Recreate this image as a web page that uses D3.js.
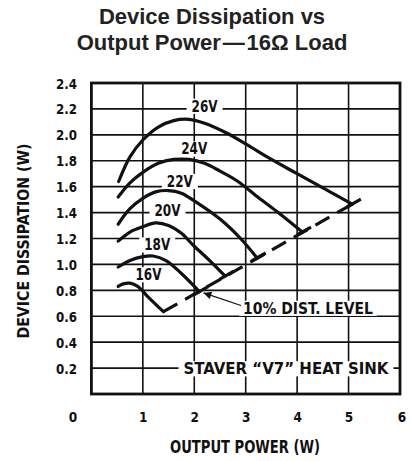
<!DOCTYPE html>
<html lang="en">
<head>
  <meta charset="UTF-8">
  <title>Device Dissipation vs Output Power</title>
  <script src="https://d3js.org/d3.v7.min.js"></script>
  <style>
    body { margin: 0; background: #fff; }
    svg { display: block; }
    .title { font-family: "Liberation Sans", Arial, sans-serif; font-weight: bold; font-size: 22px; fill: #222; }
    .cond { font-family: "Liberation Sans Narrow", "DejaVu Sans Condensed", sans-serif; font-weight: bold; fill: #111; }
  </style>
</head>
<body>
  <svg width="412" height="461"></svg>
  <script>
    const svg = d3.select("svg");

    // data
    const xTicks = [1, 2, 3, 4, 5, 6];
    const yTicks = [0.2, 0.4, 0.6, 0.8, 1.0, 1.2, 1.4, 1.6, 1.8, 2.0, 2.2, 2.4];
    const voltages = ["26V", "24V", "22V", "20V", "18V", "16V"];
    const curve26 = [[0.53,1.64],[0.75,1.83],[1.0,1.96],[1.3,2.06],[1.6,2.11],[1.9,2.12],[2.2,2.09],[2.6,2.02],[3.0,1.93],[3.5,1.81],[4.0,1.70],[4.5,1.59],[5.07,1.465]];
    const curve24 = [[0.52,1.52],[0.75,1.63],[1.0,1.71],[1.3,1.78],[1.6,1.81],[1.9,1.81],[2.2,1.78],[2.5,1.72],[2.85,1.64],[3.2,1.53],[3.6,1.41],[4.1,1.25]];
    const curve22 = [[0.52,1.31],[0.75,1.43],[1.0,1.51],[1.25,1.56],[1.5,1.57],[1.75,1.55],[2.0,1.49],[2.5,1.35],[2.9,1.20],[3.22,1.05]];
    const curve20 = [[0.52,1.18],[0.75,1.25],[1.0,1.29],[1.25,1.32],[1.5,1.30],[1.75,1.24],[2.0,1.14],[2.3,1.03],[2.60,0.91]];
    const curve18 = [[0.52,0.98],[0.75,1.03],[1.0,1.06],[1.2,1.065],[1.45,1.03],[1.75,0.93],[2.10,0.79]];
    const curve16 = [[0.52,0.83],[0.62,0.85],[0.75,0.855],[0.9,0.83],[1.1,0.75],[1.40,0.635]];
    const distLevel = [[1.40,0.635],[5.07,1.465]];
    // label anchor points (data units) for each voltage
    const labelPos = [[2.2,2.18],[2.0,1.85],[1.72,1.60],[1.48,1.37],[1.28,1.11],[1.11,0.88]];

    const x = d3.scaleLinear().domain([0, 6]).range([91.4, 400]);
    const y = d3.scaleLinear().domain([0, 2.4]).range([394, 83]);

    const curves = [curve26, curve24, curve22, curve20, curve18, curve16];

    // title
    svg.append("text").attr("class", "title").attr("x", 212).attr("y", 23.5)
      .attr("text-anchor", "middle").text("Device Dissipation vs");
    svg.append("text").attr("class", "title").attr("x", 212).attr("y", 50)
      .attr("text-anchor", "middle").text("Output Power\u200A\u2014\u200A16\u03A9 Load");

    // grid
    const grid = svg.append("g").attr("stroke", "#111").attr("stroke-width", 1.6);
    grid.selectAll(".vg").data(xTicks.slice(0, -1)).join("line")
      .attr("x1", d => x(d)).attr("x2", d => x(d))
      .attr("y1", y(2.4)).attr("y2", y(0));
    grid.selectAll(".hg").data(yTicks.slice(0, -1)).join("line")
      .attr("y1", d => y(d)).attr("y2", d => y(d))
      .attr("x1", x(0)).attr("x2", x(6));

    // axes as tick labels only
    const yAxis = d3.axisLeft(y).tickValues(yTicks).tickSize(0).tickPadding(0)
      .tickFormat(d3.format(".1f"));
    const gy = svg.append("g").attr("transform", "translate(77,0)").call(yAxis);
    gy.select(".domain").remove();
    gy.selectAll(".tick text").attr("class", "cond").attr("font-size", 13.5)
      .attr("dy", 5).attr("textLength", 21).attr("lengthAdjust", "spacingAndGlyphs")
      .attr("font-family", null);

    const xAxis = d3.axisBottom(x).tickValues(xTicks).tickSize(0).tickPadding(0)
      .tickFormat(d3.format("d"));
    const gx = svg.append("g").attr("transform", "translate(0,412)").call(xAxis);
    gx.select(".domain").remove();
    gx.selectAll(".tick text").attr("class", "cond").attr("font-size", 13.5)
      .attr("dy", 10).attr("font-family", null);
    gx.selectAll(".tick").filter(d => d === 6).attr("transform", `translate(${x(6) + 2},0)`);

    svg.append("text").attr("class", "cond").attr("font-size", 13.5)
      .attr("x", 73).attr("y", 422).attr("text-anchor", "middle").text("0");

    // label backgrounds (break the grid), then curves, then texts
    const bg = svg.append("g").attr("fill", "#fff");
    const curveG = svg.append("g").attr("fill", "none").attr("stroke", "#111")
      .attr("stroke-width", 3.2).attr("stroke-linecap", "round");

    const line = d3.line().x(d => x(d[0])).y(d => y(d[1])).curve(d3.curveCatmullRom.alpha(0.5));
    curveG.selectAll(".c").data(curves).join("path").attr("d", line);

    // 10% distortion level (dashed)
    const straight = d3.line().x(d => x(d[0])).y(d => y(d[1]));
    curveG.append("path").attr("d", straight(distLevel))
      .attr("stroke-dasharray", "16,9").attr("stroke-linecap", "butt");

    // end bars where each curve meets the dashed line
    const dx = x(distLevel[1][0]) - x(distLevel[0][0]);
    const dy = y(distLevel[1][1]) - y(distLevel[0][1]);
    const len = Math.hypot(dx, dy);
    const ux = dx / len, uy = dy / len;
    curveG.selectAll(".bar").data(curves.slice(0, 5).map(c => c[c.length - 1])).join("line")
      .attr("x1", d => x(d[0]) - ux * 6).attr("y1", d => y(d[1]) - uy * 6)
      .attr("x2", d => x(d[0]) + ux * 10).attr("y2", d => y(d[1]) + uy * 10)
      .attr("stroke-linecap", "butt");

    // frame
    svg.append("rect").attr("x", x(0)).attr("y", y(2.4))
      .attr("width", x(6) - x(0)).attr("height", y(0) - y(2.4))
      .attr("fill", "none").attr("stroke", "#111").attr("stroke-width", 2.8);

    function addLabel(txt, cx, base, size, width, pad) {
      bg.append("rect").attr("x", cx - width / 2 - pad).attr("y", base - size * 0.8)
        .attr("width", width + 2 * pad).attr("height", size * 0.95);
      return svg.append("text").attr("class", "cond").attr("font-size", size)
        .attr("x", cx).attr("y", base).attr("text-anchor", "middle")
        .attr("textLength", width).attr("lengthAdjust", "spacingAndGlyphs").text(txt);
    }

    voltages.forEach((v, i) => {
      addLabel(v, x(labelPos[i][0]), y(labelPos[i][1]), 16, 26, 5);
    });

    addLabel("10% DIST. LEVEL", 308, 313.5, 16, 130, 4);
    addLabel("STAVER \u201CV7\u201D HEAT SINK", 286, 374, 16, 205, 5);

    // arrow to the dashed line
    const defs = svg.append("defs");
    defs.append("marker").attr("id", "ah").attr("viewBox", "0 0 10 10")
      .attr("refX", 10).attr("refY", 5).attr("markerWidth", 8).attr("markerHeight", 6)
      .attr("orient", "auto").append("path").attr("d", "M0,0L10,5L0,10z").attr("fill", "#111");
    svg.append("line").attr("x1", 241).attr("y1", 305.5)
      .attr("x2", x(2.18)).attr("y2", y(0.78))
      .attr("stroke", "#111").attr("stroke-width", 1.3).attr("marker-end", "url(#ah)");

    // axis titles
    svg.append("text").attr("class", "cond").attr("font-size", 17)
      .attr("x", 245).attr("y", 453).attr("text-anchor", "middle")
      .attr("textLength", 150).attr("lengthAdjust", "spacingAndGlyphs")
      .text("OUTPUT POWER (W)");
    svg.append("text").attr("class", "cond").attr("font-size", 16)
      .attr("transform", "translate(29,241) rotate(-90)").attr("text-anchor", "middle")
      .attr("textLength", 195).attr("lengthAdjust", "spacingAndGlyphs")
      .text("DEVICE DISSIPATION (W)");
  </script>
</body>
</html>
